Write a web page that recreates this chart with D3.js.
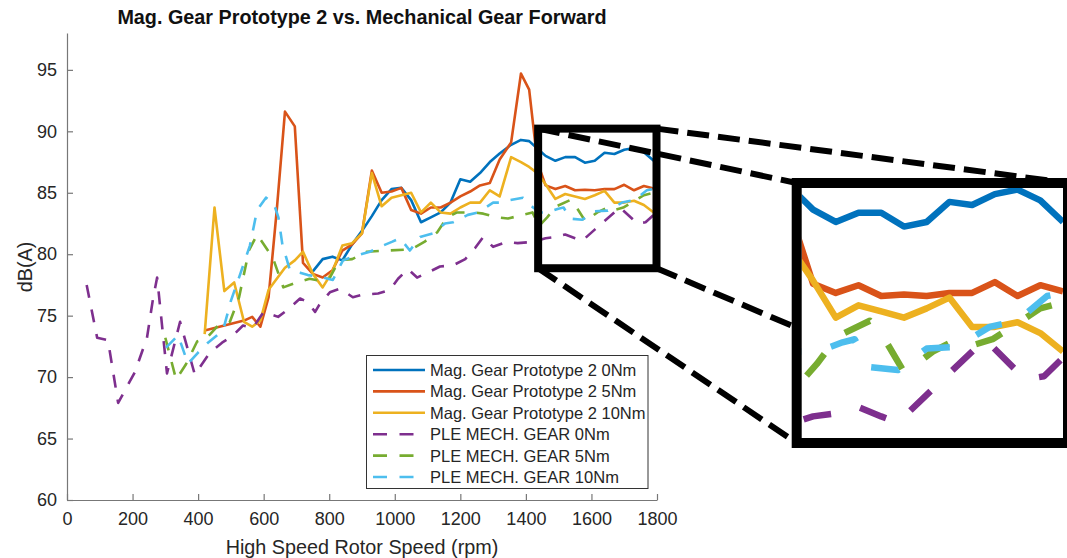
<!DOCTYPE html>
<html>
<head>
<meta charset="utf-8">
<script src="https://cdn.jsdelivr.net/npm/d3@7"></script>
<style>
  body { margin: 0; background: #fff; }
  svg { display: block; }
  text { font-family: "Liberation Sans", Arial, Helvetica, sans-serif; }
</style>
</head>
<body>
<svg id="chart" width="1067" height="558"></svg>
<script>
// ---------------- DATA ----------------
const titleText = "Mag. Gear Prototype 2 vs. Mechanical Gear Forward";
const xLabel = "High Speed Rotor Speed (rpm)";
const yLabel = "dB(A)";
const xTicks = [0, 200, 400, 600, 800, 1000, 1200, 1400, 1600, 1800];
const yTicks = [60, 65, 70, 75, 80, 85, 90, 95];

// Magnetic gear prototype speeds (rpm)
const speedMag = [420, 450, 480, 510, 540, 565, 590, 615, 640, 665,
                  695, 720, 750, 780, 810, 840, 870, 900, 930, 960,
                  990, 1020, 1050, 1080, 1110, 1140, 1170, 1200, 1230, 1260,
                  1290, 1320, 1355, 1385, 1410, 1435, 1460, 1490, 1520, 1550,
                  1580, 1610, 1640, 1670, 1700, 1730, 1760, 1790];
const mag0Nm = [null, null, null, null, null, null, null, null, null, null,
                null, null, 78.6, 79.6, 79.8, 79.5, 80.8, 81.9, 83.1, 84.4,
                85.3, 85.4, 84.4, 82.6, 83.0, 83.4, 84.2, 86.1, 85.9, 86.6,
                87.5, 88.2, 88.9, 89.3, 89.2, 88.6, 88.0, 87.6, 87.9, 87.9,
                87.45, 87.6, 88.25, 88.15, 88.5, 88.65, 88.3, 87.6];
const mag5Nm = [73.8, 74.0, 74.2, 74.4, 74.6, 74.9, 74.1, 76.5, 83.6, 91.6,
                90.4, 79.3, 78.4, 78.1, 78.7, 80.3, 80.8, 81.7, 86.8, 85.0,
                85.1, 85.4, 83.6, 83.3, 83.8, 83.8, 84.2, 84.7, 85.1, 85.6,
                85.8, 87.7, 89.1, 94.7, 93.4, 87.5, 85.6, 85.3, 85.55, 85.2,
                85.25, 85.2, 85.3, 85.3, 85.65, 85.2, 85.55, 85.35];
const mag10Nm = [73.5, 83.8, 77.0, 77.7, 74.5, 74.1, 74.6, 77.1, 78.0, 78.9,
                 79.5, 80.2, 78.4, 77.3, 78.6, 80.7, 80.9, 81.7, 86.6, 83.9,
                 84.6, 84.8, 85.0, 83.4, 84.2, 83.4, 83.3, 83.8, 84.2, 84.2,
                 85.2, 84.7, 87.9, 87.5, 87.1, 86.6, 85.7, 84.5, 84.9, 84.7,
                 84.5, 84.8, 85.15, 84.2, 84.2, 84.35, 84.0, 83.4];

// PLE mechanical gear
const speedPle0Nm = [60, 92, 125, 156, 207, 244, 262, 275, 305, 345,
                     390, 436, 473, 503, 537, 567, 600, 644, 674, 711,
                     735, 757, 770, 802, 833, 872, 900, 949, 985, 1010,
                     1040, 1068, 1100, 1138, 1178, 1215, 1245, 1270, 1300, 1340,
                     1375, 1420, 1460, 1490, 1520, 1550, 1572, 1610, 1640, 1687,
                     1740, 1765, 1790];
const ple0Nm = [77.5, 73.2, 73.0, 67.9, 70.4, 73.2, 76.3, 78.1, 70.3, 74.5,
                70.2, 72.0, 72.8, 73.3, 74.2, 74.0, 75.3, 74.9, 75.5, 76.4,
                76.1, 75.3, 75.9, 76.9, 77.2, 76.5, 76.7, 76.8, 77.1, 78.0,
                78.8, 78.1, 78.5, 79.0, 79.1, 79.6, 80.5, 81.4, 80.6, 81.0,
                80.9, 81.0, 81.3, 81.4, 81.6, 81.3, 81.1, 82.0, 82.7, 83.8,
                82.5, 82.6, 83.2];

const speedPle5Nm = [300, 333, 362, 397, 427, 461, 497, 525, 555, 580,
                     628, 660, 700, 740, 780, 800, 830, 870, 915, 980,
                     1050, 1090, 1130, 1160, 1190, 1240, 1270, 1310, 1345, 1390,
                     1420, 1440, 1465, 1493, 1535, 1557, 1581, 1618, 1650, 1670,
                     1697, 1729, 1760, 1790];
const ple5Nm = [73.2, 69.8, 71.0, 72.9, 73.2, 74.2, 74.5, 76.5, 80.3, 81.6,
                79.7, 77.3, 77.7, 78.0, 77.8, 78.0, 79.5, 79.6, 80.2, 80.3,
                80.4, 81.0, 81.8, 83.0, 83.4, 83.4, 83.3, 83.0, 82.9, 83.2,
                83.4, 82.3, 83.0, 83.9, 84.4, 83.7, 82.7, 83.4, 83.8, 83.6,
                83.8, 84.3, 84.8, 85.0];

const speedPle10Nm = [302, 339, 369, 400, 430, 458, 476, 500, 530, 558,
                      580, 607, 630, 645, 657, 680, 711, 735, 781, 811,
                      842, 872, 924, 946, 991, 1016, 1046, 1077, 1117, 1153,
                      1178, 1223, 1254, 1300, 1321, 1351, 1391, 1422, 1443, 1466,
                      1499, 1515, 1535, 1572, 1610, 1650, 1693, 1730, 1769, 1789];
const ple10Nm = [72.4, 73.4, 71.1, 72.0, 72.8, 73.4, 73.8, 76.2, 78.5, 80.7,
                 83.6, 84.6, 84.2, 83.0, 80.8, 78.7, 78.5, 78.3, 78.1, 77.9,
                 79.5, 79.8, 80.2, 80.5, 81.0, 81.3, 80.3, 81.4, 81.7, 82.5,
                 82.6, 83.2, 83.4, 84.2, 84.2, 84.4, 84.6, 83.8, 83.4, 83.4,
                 83.7, 83.8, 82.9, 82.8, 83.5, 83.55, 84.2, 84.4, 85.2, 85.3];

const seriesNames = ["Mag. Gear Prototype 2 0Nm", "Mag. Gear Prototype 2 5Nm",
                     "Mag. Gear Prototype 2 10Nm", "PLE MECH. GEAR 0Nm",
                     "PLE MECH. GEAR 5Nm", "PLE MECH. GEAR 10Nm"];
const seriesColors = ["#0072BD", "#D95319", "#EDB120", "#7E2F8E", "#77AC30", "#4DBEEE"];

// zoom window (data coords)
const zoomBox = { x0: 1445, x1: 1800, y0: 78.9, y1: 90.3 };
const insetDomainX = [1445, 1790];
const insetDomainY = [80.6, 88.7];

// ---------------- BUILD ----------------
function zip(xs, ys) { return xs.map((s, i) => ({ s: s, v: ys[i] })); }
const series = [
  { name: seriesNames[0], color: seriesColors[0], dashed: false, pts: zip(speedMag, mag0Nm) },
  { name: seriesNames[1], color: seriesColors[1], dashed: false, pts: zip(speedMag, mag5Nm) },
  { name: seriesNames[2], color: seriesColors[2], dashed: false, pts: zip(speedMag, mag10Nm) },
  { name: seriesNames[3], color: seriesColors[3], dashed: true, pts: zip(speedPle0Nm, ple0Nm) },
  { name: seriesNames[4], color: seriesColors[4], dashed: true, pts: zip(speedPle5Nm, ple5Nm) },
  { name: seriesNames[5], color: seriesColors[5], dashed: true, pts: zip(speedPle10Nm, ple10Nm) }
];

const svg = d3.select("#chart");
svg.append("rect").attr("width", 1067).attr("height", 558).attr("fill", "#fff");

const x = d3.scaleLinear().domain([0, 1800]).range([67, 657]);
const y = d3.scaleLinear().domain([60, 98]).range([500, 33]);

const axisColor = "#777";
const textColor = "#262626";

// axes
const gx = svg.append("g").attr("transform", "translate(0,500)")
  .call(d3.axisBottom(x).tickValues(xTicks).tickFormat(d3.format("d"))
        .tickSizeInner(-6).tickSizeOuter(0).tickPadding(12));
const gy = svg.append("g").attr("transform", "translate(67,0)")
  .call(d3.axisLeft(y).tickValues(yTicks).tickFormat(d3.format("d"))
        .tickSizeInner(-6).tickSizeOuter(0).tickPadding(10));
[gx, gy].forEach(g => {
  g.select(".domain").attr("stroke", axisColor).attr("stroke-width", 1.2);
  g.selectAll(".tick line").attr("stroke", axisColor).attr("stroke-width", 1.2);
  g.selectAll(".tick text").attr("fill", textColor).style("font-size", "18px")
    .style("font-family", "'Liberation Sans', Arial, sans-serif");
});

// titles
svg.append("text").attr("x", 362).attr("y", 24).attr("text-anchor", "middle")
  .style("font-size", "19.8px").style("font-weight", "bold").attr("fill", "#111")
  .text(titleText);
svg.append("text").attr("x", 362).attr("y", 554).attr("text-anchor", "middle")
  .style("font-size", "19.8px").attr("fill", textColor).text(xLabel);
svg.append("text").attr("transform", "translate(32,267) rotate(-90)")
  .attr("text-anchor", "middle").style("font-size", "19.8px").attr("fill", textColor)
  .text(yLabel);

// lines
function lineGen(sx, sy) {
  return d3.line().defined(d => d.v != null).x(d => sx(d.s)).y(d => sy(d.v));
}
const mainLine = lineGen(x, y);
const gLines = svg.append("g");
series.forEach(s => {
  gLines.append("path").datum(s.pts)
    .attr("d", mainLine)
    .attr("fill", "none")
    .attr("stroke", s.color)
    .attr("stroke-width", 2.6)
    .attr("stroke-linejoin", "round")
    .attr("stroke-dasharray", s.dashed ? "13,12" : null);
});

// legend
const leg = svg.append("g");
leg.append("rect").attr("x", 366.5).attr("y", 355.5).attr("width", 281.5).attr("height", 133)
  .attr("fill", "#fff").attr("stroke", "#333").attr("stroke-width", 1);
const legY = d3.scalePoint().domain(seriesNames).range([370, 477]);
series.forEach(s => {
  const yy = legY(s.name);
  leg.append("line").attr("x1", 373).attr("x2", 425).attr("y1", yy).attr("y2", yy)
    .attr("stroke", s.color).attr("stroke-width", 2.6)
    .attr("stroke-dasharray", s.dashed ? "14,12.5" : null);
  leg.append("text").attr("x", 430).attr("y", yy).attr("dy", "0.36em")
    .style("font-size", "16.5px").attr("fill", textColor).text(s.name);
});

// inset geometry derived from zoom box
const bx0 = x(zoomBox.x0) - 2.5, bx1 = x(zoomBox.x1) - 0.5;
const by0 = y(zoomBox.y1) + 1, by1 = y(zoomBox.y0) + 0.5;
const ins = { x0: 796.7, y0: 183, x1: 1068, y1: 443 };

// connector dashed lines
const conn = [
  [bx0, by0, ins.x0, ins.y0],
  [bx1, by0, ins.x1, ins.y0],
  [bx0, by1, ins.x0, ins.y1],
  [bx1, by1, ins.x1, ins.y1]
];
svg.append("g").selectAll("line").data(conn).join("line")
  .attr("x1", d => d[0]).attr("y1", d => d[1]).attr("x2", d => d[2]).attr("y2", d => d[3])
  .attr("stroke", "#000").attr("stroke-width", 6).attr("stroke-dasharray", "22,9");

// small zoom box
svg.append("rect").attr("x", bx0).attr("y", by0).attr("width", bx1 - bx0).attr("height", by1 - by0)
  .attr("fill", "none").attr("stroke", "#000").attr("stroke-width", 8);

// inset
const ix = d3.scaleLinear().domain(insetDomainX).range([801.7, 1063]);
const iy = d3.scaleLinear().domain(insetDomainY).range([438, 188]);
svg.append("rect").attr("x", ins.x0).attr("y", ins.y0)
  .attr("width", ins.x1 - ins.x0).attr("height", ins.y1 - ins.y0).attr("fill", "#fff");
svg.append("clipPath").attr("id", "insetClip").append("rect")
  .attr("x", 801.7).attr("y", 188).attr("width", 262).attr("height", 250);
const insetLine = lineGen(ix, iy);
const gIn = svg.append("g").attr("clip-path", "url(#insetClip)");
series.forEach(s => {
  gIn.append("path").datum(s.pts)
    .attr("d", insetLine)
    .attr("fill", "none")
    .attr("stroke", s.color)
    .attr("stroke-width", 6.5)
    .attr("stroke-linejoin", "round")
    .attr("stroke-dasharray", s.dashed ? "28,30" : null);
});
svg.append("rect").attr("x", ins.x0).attr("y", ins.y0)
  .attr("width", ins.x1 - ins.x0).attr("height", ins.y1 - ins.y0)
  .attr("fill", "none").attr("stroke", "#000").attr("stroke-width", 10);
</script>
</body>
</html>
